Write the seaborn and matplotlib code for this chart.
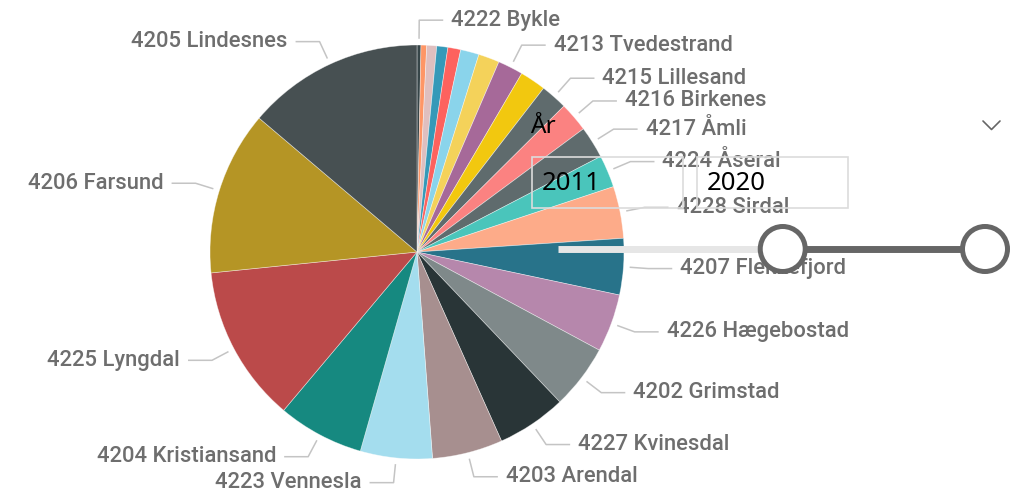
import numpy as np
import matplotlib.pyplot as plt
import seaborn as sns
from matplotlib.patches import Circle, Rectangle

# Kommuner i rekkefølge med klokka fra toppen av kaka
kommuner = ["4222 Bykle", "4211 Gjerstad", "4220 Bygland", "4218 Iveland",
            "4212 Vegårshei", "4221 Valle", "4219 Evje og Hornnes",
            "4213 Tvedestrand", "4214 Froland", "4215 Lillesand",
            "4216 Birkenes", "4217 Åmli", "4224 Åseral", "4228 Sirdal",
            "4207 Flekkefjord", "4226 Hægebostad", "4202 Grimstad",
            "4227 Kvinesdal", "4203 Arendal", "4223 Vennesla",
            "4204 Kristiansand", "4225 Lyngdal", "4206 Farsund",
            "4205 Lindesnes"]
verdier = [1.1, 1.6, 2.8, 3.1, 3.6, 5.2, 5.9, 7.1, 7.3, 7.5, 8.3, 9.0,
           9.1, 14.6, 15.8, 16.3, 18.1, 19.5, 19.8, 20.2, 24.2, 44.1,
           46.1, 49.7]
vis_etikett = [True, False, False, False, False, False, False, True, False,
               True, True, True, True, True, True, True, True, True, True,
               True, True, True, True, True]
farger = ["#374649", "#FE9666", "#DFBFBF", "#3599B8", "#FD625E", "#8AD4EB",
          "#F4D25A", "#A66999", "#F2C80F", "#5F6B6D", "#FB8281", "#5F6B6D",
          "#4AC5BB", "#FDAB89", "#28738A", "#B687AC", "#7F898A", "#293537",
          "#A78F8F", "#A4DDEE", "#168980", "#BB4A4A", "#B59525", "#475052"]

# Årsfilter (slicer)
aar_min, aar_max = 2001, 2020
aar_fra, aar_til = 2011, 2020

sns.set_theme(style="white")
palett = sns.color_palette(farger)

W, H = 1020, 497
fig = plt.figure(figsize=(W / 100, H / 100), dpi=100)
ax = fig.add_axes([0, 0, 1, 1])

def py(y):
    # pikselkoordinat fra toppen -> dataenhet
    return H - y

cx, cy, r = 417, py(252), 207
wedges, _ = ax.pie(verdier, colors=palett, startangle=90, counterclock=False,
                   center=(cx, cy), radius=r,
                   wedgeprops=dict(edgecolor=(1, 1, 1, 0.5), linewidth=0.5))

# Etiketter med ledelinjer
tot = sum(verdier)
kum = np.cumsum([0] + verdier)
for i, navn in enumerate(kommuner):
    if not vis_etikett[i]:
        continue
    theta = np.deg2rad((kum[i] + verdier[i] / 2) / tot * 360)
    s, c = np.sin(theta), np.cos(theta)
    x0, y0 = cx + 1.03 * r * s, cy + 1.03 * r * c
    x1, y1 = cx + 1.12 * r * s, cy + 1.12 * r * c
    side = 1 if s >= 0 else -1
    x2 = x1 + side * 24
    ax.plot([x0, x1, x2], [y0, y1, y1], color="#c4c4c4", lw=1.1,
            solid_capstyle="butt", zorder=3)
    ax.text(x2 + side * 8, y1, navn, ha="left" if side > 0 else "right",
            va="center", fontsize=15.8, color="#6e6e6e", family="Roboto",
            fontweight="medium", zorder=3)

# Slicer for år
ax.text(530, py(127), "År", fontsize=17.5, color="black", va="center",
        family="Noto Sans", zorder=5)
for x_venstre, aar in [(531.7, aar_fra), (696.7, aar_til)]:
    ax.add_patch(Rectangle((x_venstre, py(208.3)), 151.6, 51.6, fill=False,
                           edgecolor="#dcdcdc", lw=1.2, zorder=5))
    ax.text(x_venstre + 10, py(183), str(aar), fontsize=18.5, color="black",
            va="center", family="Noto Sans", zorder=5)

spor_x0, spor_x1, spor_y = 558, 985, py(249)
def slider_x(aar):
    return spor_x0 + (aar - aar_min) / (aar_max - aar_min) * (spor_x1 - spor_x0)

xa, xb = slider_x(aar_fra), slider_x(aar_til)
ax.plot([spor_x0, xa], [spor_y, spor_y], color="#e6e6e6", lw=5,
        solid_capstyle="butt", zorder=6)
ax.plot([xa, xb], [spor_y, spor_y], color="#666666", lw=5,
        solid_capstyle="butt", zorder=6)
for xh in (xa, xb):
    ax.add_patch(Circle((xh, spor_y), 22.5, facecolor="white",
                        edgecolor="#666666", lw=3.6, zorder=7))

# Nedtrekkspil
ax.plot([983, 991.5, 1000], [py(121), py(129.5), py(121)], color="#666666",
        lw=1.2, zorder=5)

ax.set_xlim(0, W)
ax.set_ylim(0, H)
ax.set_aspect("auto")
ax.axis("off")

fig.savefig("out.png", dpi=100, facecolor="white")
